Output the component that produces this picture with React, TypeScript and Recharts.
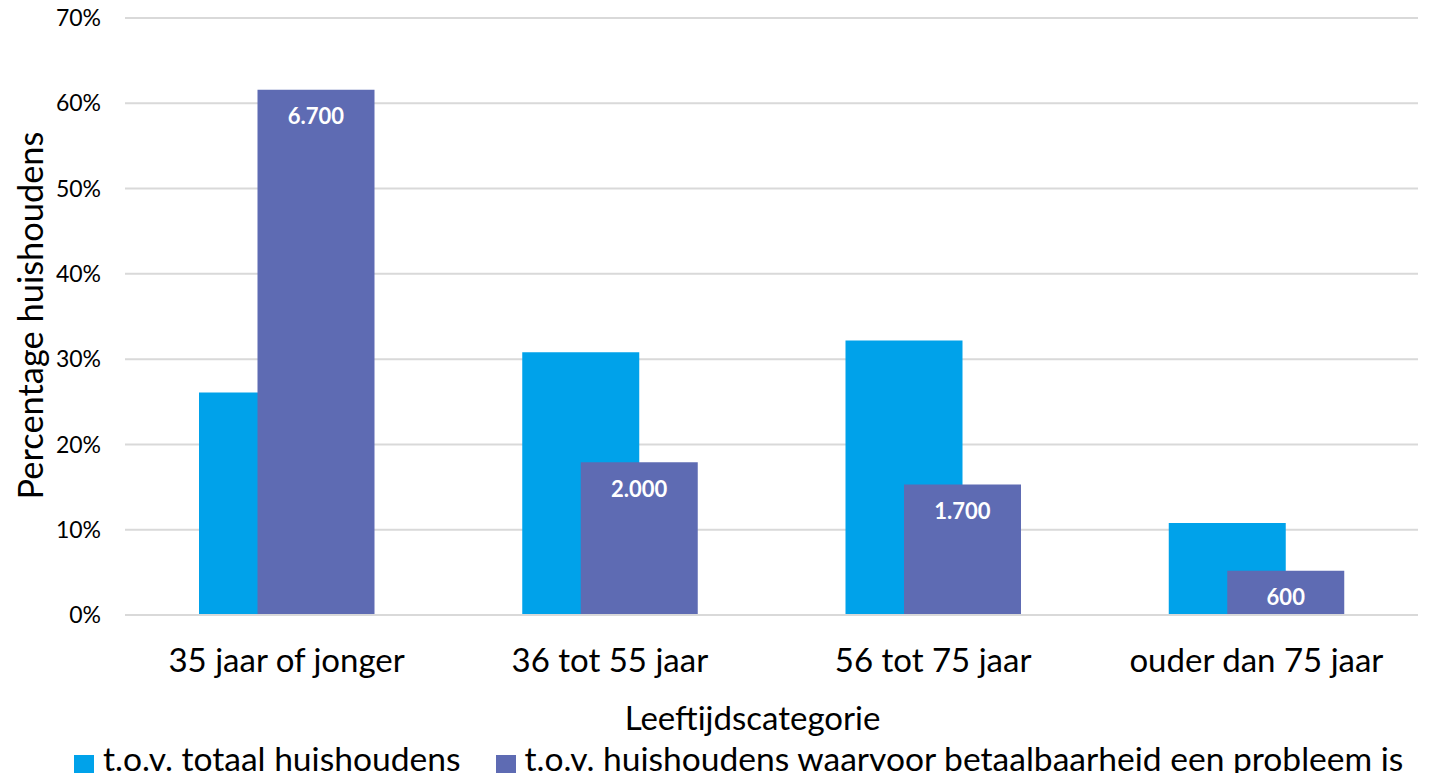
import React from 'react';
import { BarChart, Bar, XAxis, YAxis, CartesianGrid, Legend, LabelList } from 'recharts';

const categories = ['35 jaar of jonger', '36 tot 55 jaar', '56 tot 75 jaar', 'ouder dan 75 jaar'];
const totaalValues = [26.1, 30.8, 32.2, 10.8];
const probleemValues = [61.6, 17.9, 15.3, 5.2];
const probleemLabels = ['6.700', '2.000', '1.700', '600'];
const yTicks = [0, 10, 20, 30, 40, 50, 60, 70];
const seriesNames = ['t.o.v. totaal huishoudens', 't.o.v. huishoudens waarvoor betaalbaarheid een probleem is'];
const colors = ['#00A2EA', '#5E6BB3'];

const data = categories.map((c, i) => ({
  name: c,
  totaal: totaalValues[i],
  probleem: probleemValues[i],
  label: probleemLabels[i],
}));

const FONT = 'Lato, "Open Sans", sans-serif';

const LegendContent = () => (
  <div style={{ display: 'flex', alignItems: 'center', height: 36, paddingLeft: 74, fontFamily: FONT, fontSize: 33.6, lineHeight: '36px', color: '#000', whiteSpace: 'nowrap' }}>
    {seriesNames.map((n, i) => (
      <div key={n} style={{ display: 'flex', alignItems: 'center', marginRight: 35 }}>
        <span style={{ display: 'inline-block', position: 'relative', top: 2, width: 20, height: 20, background: colors[i], marginRight: 9 }} />
        <span style={{ position: 'relative', top: -5 }}>{n}</span>
      </div>
    ))}
  </div>
);

const YLabel = (props: any) => {
  const vb = props.viewBox || {};
  const cy = vb.y + vb.height / 2 - 1;
  const cx = 29;
  return (
    <text x={cx} y={cy} transform={`rotate(-90, ${cx}, ${cy})`} textAnchor="middle" dominantBaseline="central" fontFamily={FONT} fontSize={34.4} fill="#000">
      Percentage huishoudens
    </text>
  );
};

export default function App() {
  return (
    <div style={{ margin: -8, width: 1429, height: 781, background: '#fff', overflow: 'hidden' }}>
      <BarChart
        width={1429}
        height={781}
        data={data}
        margin={{ top: 18, right: 11, left: 0, bottom: 0 }}
        barSize={117}
        barGap={-58.5}
      >
        <CartesianGrid horizontal vertical={false} stroke="#d9d9d9" strokeWidth={2} />
        <XAxis
          dataKey="name"
          height={130}
          tickLine={false}
          axisLine={{ stroke: '#d9d9d9', strokeWidth: 2 }}
          tickMargin={28}
          tick={{ fontFamily: FONT, fontSize: 33, fill: '#000' }}
          interval={0}
          label={{ value: 'Leeftijdscategorie', position: 'insideBottom', offset: 15, dx: -19, fontFamily: FONT, fontSize: 33, fill: '#000' }}
        />
        <YAxis
          width={125}
          domain={[0, 70]}
          ticks={yTicks}
          tickFormatter={(v: number) => `${v}%`}
          tickLine={false}
          axisLine={false}
          tickSize={0}
          tickMargin={24}
          tick={{ fontFamily: FONT, fontSize: 23, fill: '#000' }}
          label={<YLabel />}
        />
        <Legend verticalAlign="bottom" height={36} content={<LegendContent />} />
        <Bar dataKey="totaal" name={seriesNames[0]} fill={colors[0]} isAnimationActive={false} />
        <Bar dataKey="probleem" name={seriesNames[1]} fill={colors[1]} isAnimationActive={false}>
          <LabelList dataKey="label" position="insideTop" offset={19} fill="#fff" fontFamily={FONT} fontSize={22} fontWeight="bold" />
        </Bar>
      </BarChart>
    </div>
  );
}
